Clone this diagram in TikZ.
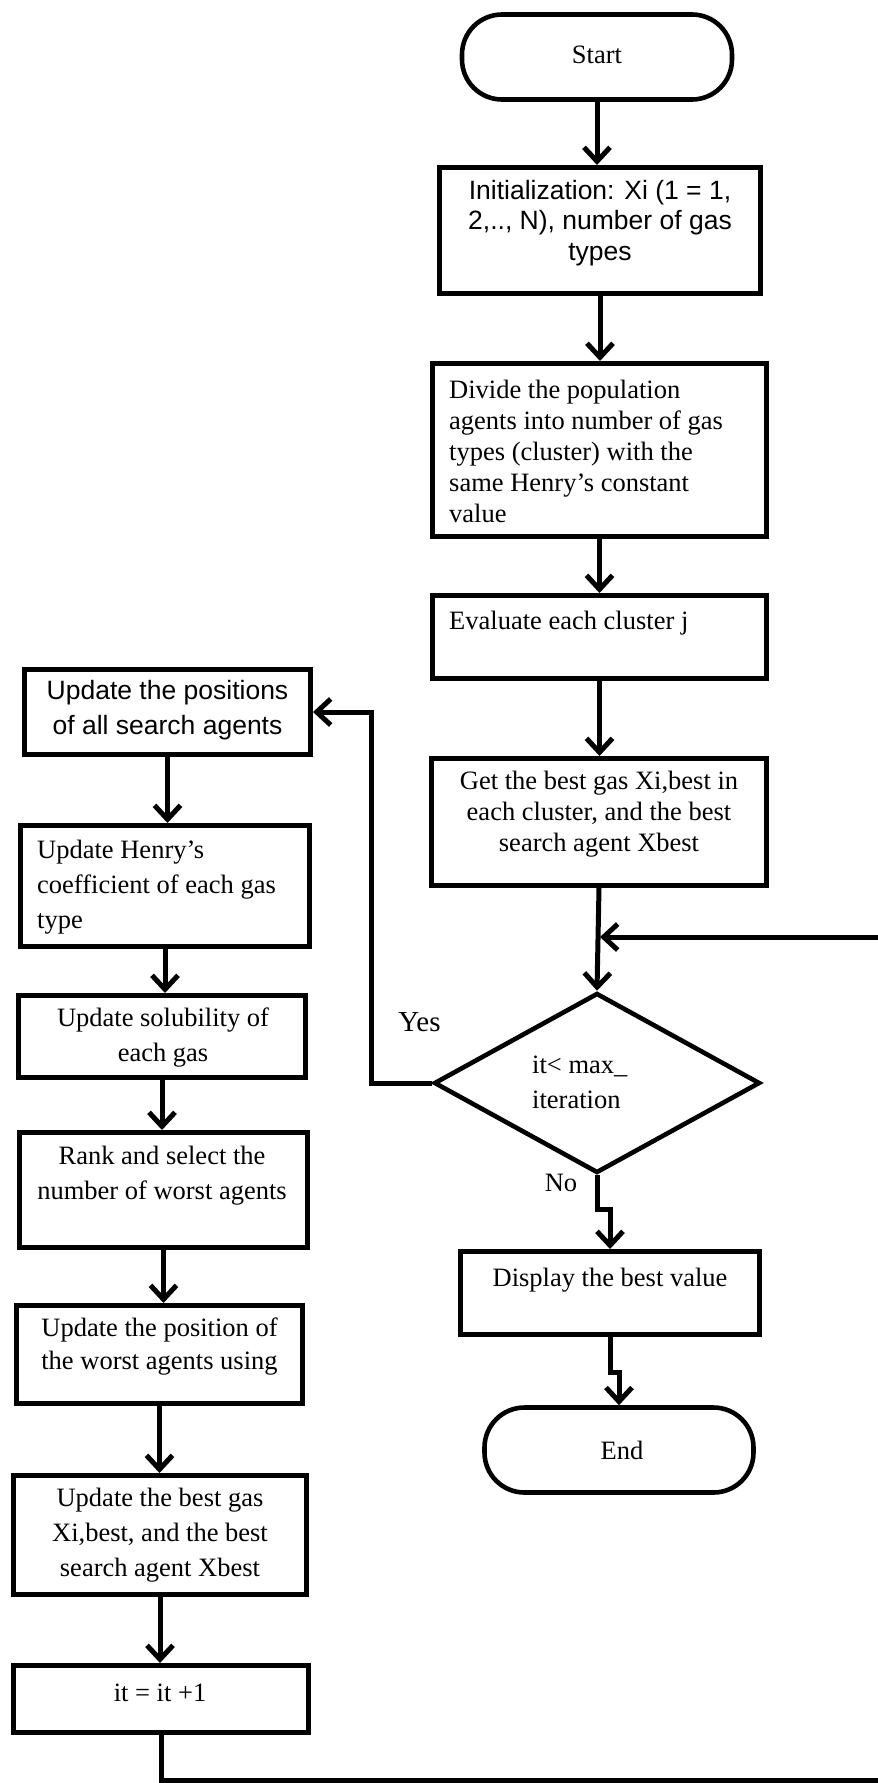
\documentclass[tikz,border=0pt]{standalone}
\usepackage{fontspec}
\setmainfont{Liberation Serif}
\newfontfamily\arialf{Liberation Sans}
\usetikzlibrary{arrows.meta,shapes.geometric}
\begin{document}
\begin{tikzpicture}[x=1pt,y=-1pt,
  frame/.style={draw, line width=5pt, inner sep=0pt, rectangle},
  term/.style={draw, line width=4.6pt, rounded corners=40pt, inner sep=0pt, rectangle},
  decis/.style={draw, line width=4.6pt, inner sep=0pt, diamond},
  tA/.style={inner sep=0pt, font=\fontsize{26.5}{31}\selectfont},
  tB/.style={inner sep=0pt, font=\fontsize{26.5}{35}\selectfont},
  tS/.style={inner sep=0pt, font=\arialf\fontsize{26.5}{31}\selectfont},
  conn/.style={line width=5pt},
  arr/.style={conn, -{Straight Barb[length=14pt,width=26pt]}},
]
\useasboundingbox (0,0) rectangle (878,1783);
\clip (0,0) rectangle (878,1783);

% right column shapes
\node[term, minimum width=270pt, minimum height=85pt] (start) at (597,57) {};
\node[frame, minimum width=321pt, minimum height=126pt] (init) at (600,230.5) {};
\node[frame, minimum width=334pt, minimum height=173pt] (div) at (599.5,450) {};
\node[frame, minimum width=334pt, minimum height=83pt] (eval) at (599.5,637) {};
\node[frame, minimum width=335pt, minimum height=127pt] (get) at (599,822) {};
\node[decis, minimum width=326pt, minimum height=180pt] (dia) at (597,1083) {};
\node[frame, minimum width=299pt, minimum height=83pt] (disp) at (610,1293) {};
\node[term, minimum width=269pt, minimum height=85pt] (end) at (619,1450) {};

% left column shapes
\node[frame, minimum width=286pt, minimum height=85pt] (upd) at (167.5,712) {};
\node[frame, minimum width=289pt, minimum height=121pt] (henry) at (165,886) {};
\node[frame, minimum width=287pt, minimum height=82pt] (sol) at (162,1036.5) {};
\node[frame, minimum width=288pt, minimum height=115pt] (rank) at (163.5,1190) {};
\node[frame, minimum width=286pt, minimum height=98pt] (worst) at (159.5,1354.5) {};
\node[frame, minimum width=293pt, minimum height=119pt] (best) at (160,1535) {};
\node[frame, minimum width=295pt, minimum height=67pt] (itn) at (161,1699) {};

% texts
\node[tA] (start-t) at (597,55) {Start};
\node[tS, font=\arialf\fontsize{26.5}{30.5}\selectfont, align=center] (init-t) at (600,223) {Initialization: Xi (1 = 1,\\2,.., N), number of gas\\types};
\node[tA, align=left, anchor=west] (div-t) at (449,451) {Divide the population\\agents into number of gas\\types (cluster) with the\\same Henry’s constant\\value};
\node[tA, anchor=west] (eval-t) at (449,623) {Evaluate each cluster j};
\node[tA, align=center] (get-t) at (599,814.5) {Get the best gas Xi,best in\\each cluster, and the best\\search agent Xbest};
\node[tB, align=left, anchor=west] (dia-t) at (532,1082.5) {it\textless{} max\_\\iteration};
\node[inner sep=0pt, font=\fontsize{29}{33}\selectfont] (yes-t) at (419.5,1022) {Yes};
\node[tA] (no-t) at (561,1183) {No};
\node[tA] (disp-t) at (610,1280) {Display the best value};
\node[tA] (end-t) at (622,1450) {End};

\node[inner sep=0pt, font=\arialf\fontsize{26.5}{35}\selectfont, align=center] (upd-t) at (167.5,710.5) {Update the positions\\of all search agents};
\node[tB, align=left, anchor=west] (henry-t) at (37,887.5) {Update Henry’s\\coefficient of each gas\\type};
\node[tB, align=center] (sol-t) at (163,1037.5) {Update solubility of\\each gas};
\node[tB, align=center] (rank-t) at (162,1175.5) {Rank and select the\\number of worst agents};
\node[inner sep=0pt, font=\fontsize{26.5}{33}\selectfont, align=center] (worst-t) at (159.5,1346.5) {Update the position of\\the worst agents using};
\node[tB, align=center] (best-t) at (160,1535) {Update the best gas\\Xi,best, and the best\\search agent Xbest};
\node[tA] (itn-t) at (160,1693) {it = it +1};

% connectors right column
\coordinate (J) at (600,937);
\coordinate (loopR) at (882,1780);
\draw[arr] (start.south) -- (start.south |- init.north);
\draw[arr] (init.south) -- (init.south |- div.north);
\draw[arr] (div.south) -- (div.south |- eval.north);
\draw[arr] (eval.south) -- (eval.south |- get.north);
\draw[arr] (get.south) -- (dia.north);
\draw[arr] (dia.south) -- ++(0,34) -| (disp.north);
\draw[arr] (disp.south) -- ++(0,35) -| (end.north);
\draw[arr] (dia.west) -- ++(-60,0) |- (upd.east);

% connectors left column
\draw[arr] (upd.south) -- (upd.south |- henry.north);
\draw[arr] (henry.south) -- (henry.south |- sol.north);
\draw[arr] (sol.south) -- (sol.south |- rank.north);
\draw[arr] (rank.south) -- (rank.south |- worst.north);
\draw[arr] (worst.south) -- (worst.south |- best.north);
\draw[arr] (best.south) -- (best.south |- itn.north);
\draw[arr] (itn.south) |- (loopR) |- (J);
\end{tikzpicture}
\end{document}
